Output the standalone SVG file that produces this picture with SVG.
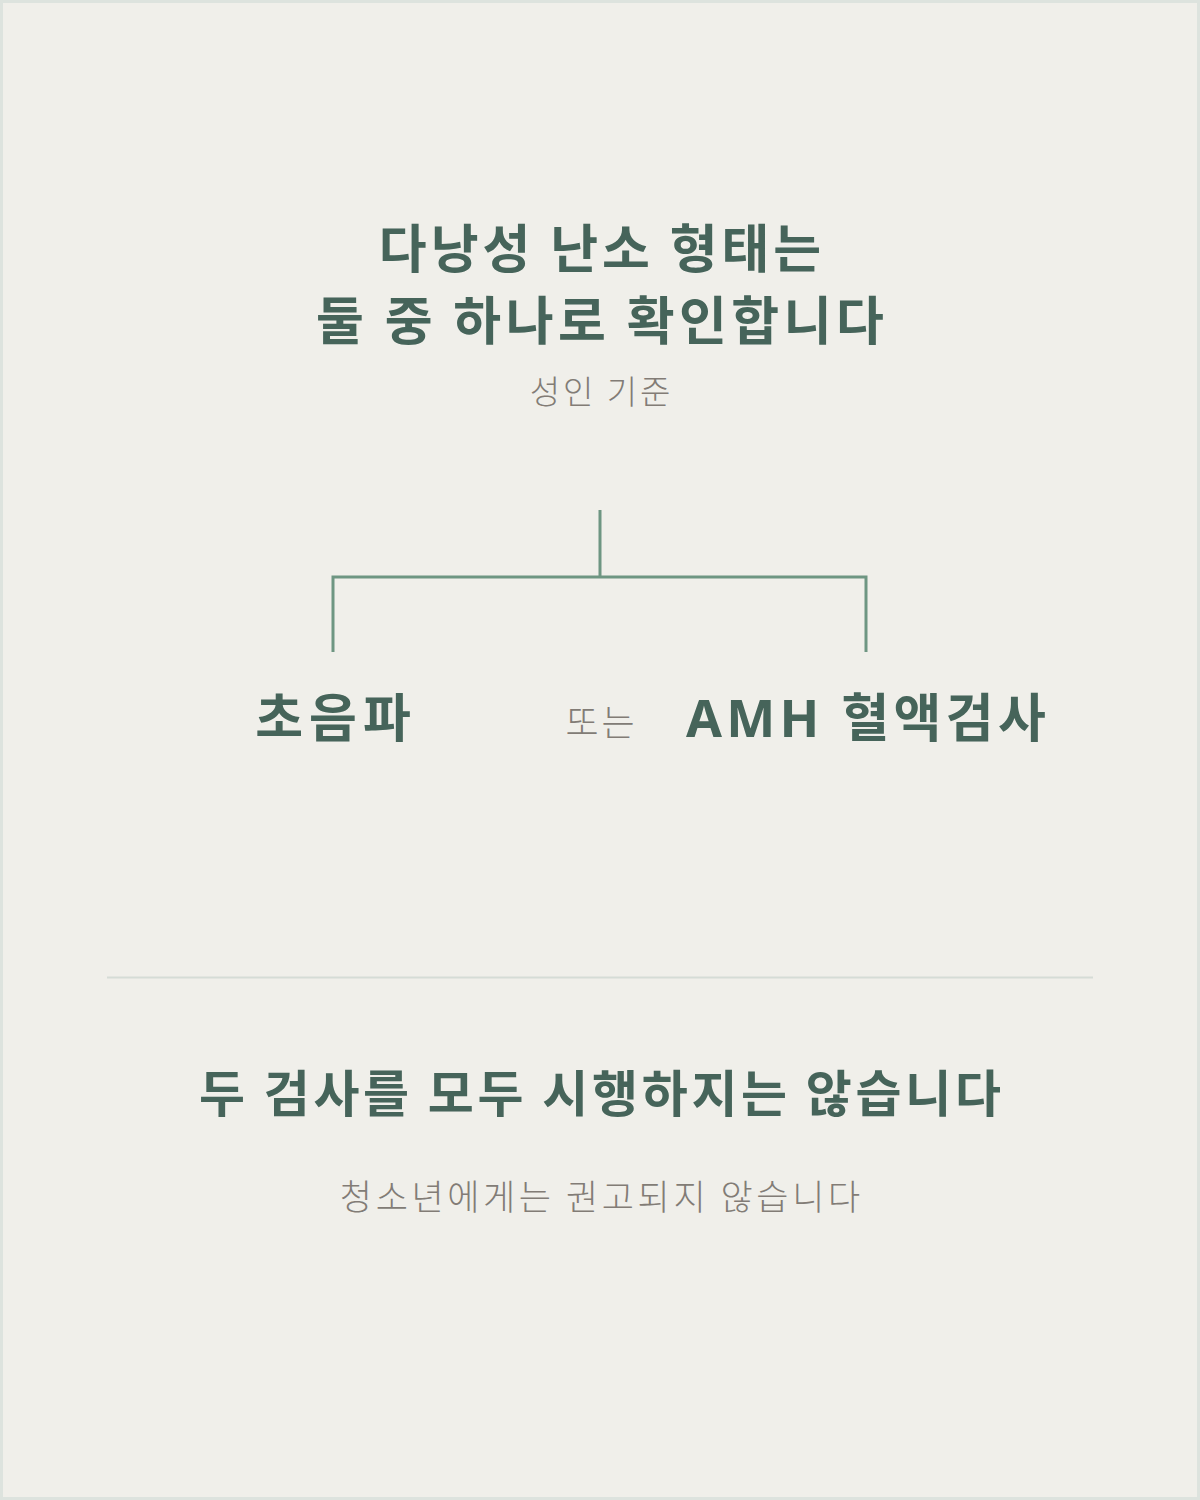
<svg xmlns="http://www.w3.org/2000/svg" width="1200" height="1500" viewBox="0 0 1200 1500">
  <style>
    .h { font-family: "Noto Sans CJK KR", "Noto Sans", sans-serif; font-weight: 700; fill: #46645a; text-anchor: middle; }
    .s { font-family: "Noto Sans CJK KR", "Noto Sans", sans-serif; font-weight: 300; fill: #827c76; text-anchor: middle; }
    .lat { font-family: "Noto Sans", "Noto Sans CJK KR", sans-serif; }
    .conn { stroke: #6e9682; stroke-width: 3; fill: none; }
  </style>
  <rect x="1.5" y="1.5" width="1197" height="1497" fill="#f0efea" stroke="#dde3de" stroke-width="3"/>
  <g id="title">
    <text class="h" x="602" y="268" font-size="52" letter-spacing="4">다낭성 난소 형태는</text>
    <text class="h" x="602.2" y="340" font-size="52" letter-spacing="4.5">둘 중 하나로 확인합니다</text>
    <text class="s" x="601.5" y="404" font-size="33" letter-spacing="3">성인 기준</text>
  </g>
  <g id="connectors">
    <path class="conn" d="M600 510 V577 M333 652 V577 H866 V652"/>
  </g>
  <g id="ultrasound">
    <text class="h" x="336" y="737" font-size="52" letter-spacing="6">초음파</text>
  </g>
  <g id="or">
    <text class="s" x="601.5" y="736" font-size="36" letter-spacing="3">또는</text>
  </g>
  <g id="amh">
    <text class="h lat" x="868" y="737" font-size="52" letter-spacing="4.3">AMH 혈액검사</text>
  </g>
  <line x1="107" y1="977.5" x2="1093" y2="977.5" stroke="#d5dcd6" stroke-width="2"/>
  <g id="note">
    <text class="h" x="601.8" y="1112" font-size="50" letter-spacing="3.7">두 검사를 모두 시행하지는 않습니다</text>
    <text class="s" x="601.8" y="1210" font-size="35" letter-spacing="3.6">청소년에게는 권고되지 않습니다</text>
  </g>
</svg>
